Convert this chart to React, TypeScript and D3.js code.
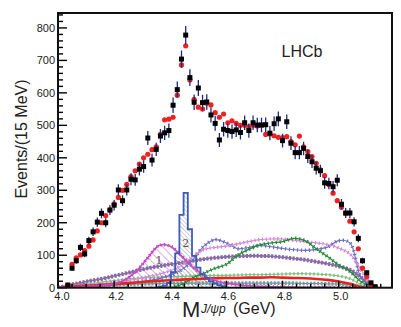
import React from 'react';
import * as d3 from 'd3';

// ---- data ----
const binMass = [4.035, 4.05, 4.065, 4.08, 4.095, 4.11, 4.125, 4.14, 4.155, 4.17, 4.185, 4.2, 4.215, 4.23, 4.245, 4.26, 4.275, 4.29, 4.305, 4.32, 4.335, 4.35, 4.365, 4.38, 4.395, 4.41, 4.425, 4.44, 4.455, 4.47, 4.485, 4.5, 4.515, 4.53, 4.545, 4.56, 4.575, 4.59, 4.605, 4.62, 4.635, 4.65, 4.665, 4.68, 4.695, 4.71, 4.725, 4.74, 4.755, 4.77, 4.785, 4.8, 4.815, 4.83, 4.845, 4.86, 4.875, 4.89, 4.905, 4.92, 4.935, 4.95, 4.965, 4.98, 4.995, 5.01, 5.025, 5.04, 5.055, 5.07, 5.085, 5.1, 5.115, 5.13];

const dataCounts = [8, 60, 83, 124, 104, 145, 172, 202, 229, 200, 239, 254, 301, 268, 301, 334, 332, 365, 373, 461, 393, 426, 467, 477, 484, 562, 610, 704, 778, 647, 571, 615, 570, 572, 532, 506, 455, 488, 484, 481, 486, 478, 508, 484, 508, 501, 501, 502, 476, 505, 520, 453, 511, 445, 416, 416, 429, 404, 388, 368, 360, 323, 321, 311, 331, 257, 230, 230, 203, 152, 83, 46, 15, 3];

const fitValues = [8, 72, 92, 101, 114, 128, 147, 175, 200, 222, 240, 258, 278, 300, 318, 342, 360, 381, 400, 411, 425, 434, 472, 517, 519, 525, 593, 686, 745, 640, 580, 556, 550, 568, 563, 539, 525, 535, 508, 514, 506, 500, 500, 495, 500, 498, 501, 472, 473, 468, 463, 462, 465, 450, 440, 467, 434, 419, 404, 383, 363, 345, 318, 291, 268, 248, 229, 205, 172, 120, 60, 34, 10, 2];

const compMass = [4.0, 4.04, 4.08, 4.12, 4.16, 4.2, 4.24, 4.28, 4.32, 4.36, 4.4, 4.44, 4.48, 4.52, 4.56, 4.6, 4.64, 4.68, 4.72, 4.76, 4.8, 4.84, 4.88, 4.92, 4.96, 5.0, 5.04, 5.08, 5.12];
const pc4380 = [0, 1, 2, 4, 7, 12, 25, 52, 92, 130, 128, 98, 64, 38, 22, 14, 9, 6, 4, 3, 2, 2, 1, 1, 1, 0, 0, 0, 0];
const lambdaPink = [0, 2, 5, 8, 12, 16, 21, 27, 34, 42, 52, 68, 95, 118, 124, 128, 135, 142, 148, 150, 150, 146, 142, 138, 133, 122, 104, 55, 0];
const lambdaBlue = [0, 1, 3, 5, 8, 11, 14, 18, 22, 28, 38, 55, 85, 128, 148, 138, 120, 124, 130, 126, 121, 117, 115, 118, 125, 145, 138, 30, 0];
const lambdaPurple = [0, 8, 15, 22, 28, 36, 44, 52, 60, 66, 72, 77, 83, 88, 92, 95, 97, 98, 98, 97, 94, 90, 86, 80, 74, 66, 55, 32, 0];
const lambdaDarkGreen = [0, 0, 0, 0, 0, 0, 0, 0, 0, 0, 0, 10, 30, 45, 60, 72, 100, 118, 132, 138, 142, 152, 145, 120, 96, 70, 50, 18, 0];
const lambdaLightGreen = [0, 3, 8, 13, 18, 22, 26, 29, 31, 33, 35, 35, 36, 37, 38, 38, 39, 40, 40, 41, 42, 43, 43, 42, 40, 36, 28, 10, 0];
const lambdaTeal = [0, 2, 4, 6, 8, 9, 10, 11, 12, 13, 13, 14, 14, 14, 14, 14, 14, 14, 14, 14, 14, 14, 13, 13, 12, 11, 8, 3, 0];
const background = [0, 3, 5, 7, 9, 11, 14, 16, 19, 21, 23, 25, 26, 28, 29, 30, 30, 31, 31, 32, 31, 30, 29, 27, 24, 19, 12, 2, 0];

const pc4450Mass = [4.365, 4.38, 4.395, 4.41, 4.425, 4.44, 4.455, 4.47, 4.485, 4.5, 4.515, 4.53, 4.545, 4.56, 4.575, 4.59];
const pc4450 = [3, 6, 15, 48, 106, 224, 292, 180, 98, 62, 42, 30, 20, 13, 8, 5];

const yTicks = [0, 100, 200, 300, 400, 500, 600, 700, 800];
const xTicks = [4.0, 4.2, 4.4, 4.6, 4.8, 5.0];
const xTickLabels = ['4.0', '4.2', '4.4', '4.6', '4.8', '5.0'];

// ---- layout ----
const W = 401;
const H = 327;
const L = 58, R = 392, T = 13, B = 287.7;
const x = d3.scaleLinear().domain([4.0, 5.19]).range([L, R]);
const y = d3.scaleLinear().domain([0, 846]).range([B, T]);
const FONT = 'Liberation Sans, Arial, Helvetica, sans-serif';

const curve = d3.curveCatmullRom.alpha(0.5);

function compLine(vals: number[], startIdx = 0) {
  return d3
    .line<number>()
    .defined((_d, i) => i >= startIdx)
    .x((_d, i) => x(compMass[i]))
    .y((d) => y(d))
    .curve(curve)(vals) as string;
}

const components = [
  { vals: lambdaTeal, color: '#6f9c9c', w: 1.2, mw: 3.6, dash: '2 1.6', start: 0 },
  { vals: lambdaLightGreen, color: '#7cbb78', w: 1, mw: 3.2, dash: '1.4 2.6', start: 0 },
  { vals: lambdaPurple, color: '#8a6aa6', w: 1.6, mw: 4, dash: '2.2 1.4', start: 0 },
  { vals: lambdaBlue, color: '#6c6cc4', w: 1.1, mw: 3.6, dash: '1.2 2.8', start: 0 },
  { vals: lambdaPink, color: '#d58ad5', w: 1.1, mw: 3.6, dash: '1.2 2.6', start: 0 },
  { vals: lambdaDarkGreen, color: '#238a35', w: 1.2, mw: 3.6, dash: '1.2 2.8', start: 10 },
];

export default function App() {
  const yMinor = d3.range(0, 841, 20);
  const xMinor = d3.range(4.0, 5.19, 0.05);

  const pc4380Area = d3
    .area<number>()
    .x((_d, i) => x(compMass[i]))
    .y0(y(0))
    .y1((d) => y(d))
    .curve(curve)(pc4380) as string;

  // step outline for Pc(4450)
  const stepPts: [number, number][] = [];
  pc4450.forEach((v, i) => {
    const m = pc4450Mass[i];
    if (i === 0) stepPts.push([m - 0.0075, 0]);
    stepPts.push([m - 0.0075, v]);
    stepPts.push([m + 0.0075, v]);
  });
  stepPts.push([pc4450Mass[pc4450Mass.length - 1] + 0.0075, 0]);
  const stepLine = d3
    .line<[number, number]>()
    .x((d) => x(d[0]))
    .y((d) => y(d[1]))(stepPts) as string;

  return (
    <svg
      width={W}
      height={H}
      viewBox={`0 0 ${W} ${H}`}
      style={{ position: 'absolute', left: 0, top: 0, background: '#fff' }}
      fontFamily={FONT}
    >
      <defs>
        <clipPath id="plotClip">
          <rect x={L} y={T} width={R - L} height={B - T} />
        </clipPath>
        <pattern id="hatch1" width={6} height={6} patternUnits="userSpaceOnUse" patternTransform="rotate(-45)">
          <line x1={0} y1={0} x2={0} y2={6} stroke="#c25ac2" strokeWidth={1} />
        </pattern>
        <pattern id="hatch2" width={3} height={3} patternUnits="userSpaceOnUse" patternTransform="rotate(-45)">
          <line x1={0} y1={0} x2={0} y2={3} stroke="#8a8a8a" strokeWidth={0.8} />
        </pattern>
      </defs>

      <rect x={0} y={0} width={W} height={H} fill="#fff" />

      <g clipPath="url(#plotClip)">
        {/* hatched components */}
        <path d={pc4380Area} fill="url(#hatch1)" stroke="none" />
        <path d={stepLine} fill="url(#hatch2)" stroke="none" />

        {/* Lambda* components */}
        {components.map((c, k) => {
          const d = compLine(c.vals, c.start);
          return (
            <g key={k}>
              <path d={d} fill="none" stroke={c.color} strokeWidth={c.w} />
              <path d={d} fill="none" stroke={c.color} strokeWidth={c.mw} strokeDasharray={c.dash} />
            </g>
          );
        })}

        {/* background */}
        <path d={compLine(background)} fill="none" stroke="#e8231f" strokeWidth={2.6} />

        {/* Pc(4380) outline */}
        <path d={compLine(pc4380)} fill="none" stroke="#c24ec2" strokeWidth={1.6} />
        <path d={compLine(pc4380)} fill="none" stroke="#c24ec2" strokeWidth={3.4} strokeDasharray="1.2 2.6" />

        {/* Pc(4450) outline */}
        <path d={stepLine} fill="none" stroke="#3a5cb4" strokeWidth={1.8} />

        {/* fit points */}
        {fitValues.map((v, i) => (
          <circle key={'f' + i} cx={x(binMass[i])} cy={y(v)} r={2.6} fill="#ee2222" />
        ))}
        {/* data error bars */}
        {dataCounts.map((v, i) => {
          const e = Math.sqrt(v);
          return (
            <line
              key={'e' + i}
              x1={x(binMass[i])}
              x2={x(binMass[i])}
              y1={y(v + e)}
              y2={y(Math.max(0, v - e))}
              stroke="#1f2a7a"
              strokeWidth={1.3}
            />
          );
        })}
        {/* data points */}
        {dataCounts.map((v, i) => (
          <rect key={'d' + i} x={x(binMass[i]) - 2.5} y={y(v) - 2.5} width={5} height={5} fill="#000" />
        ))}
      </g>

      {/* labels on components */}
      <text x={x(4.36)} y={264} fontSize={11} fill="#555" textAnchor="middle" fontFamily="DejaVu Serif, serif">1</text>
      <text x={x(4.455)} y={247} fontSize={11} fill="#555" textAnchor="middle" fontFamily="DejaVu Serif, serif">2</text>

      {/* axis ticks */}
      {yMinor.map((v) => {
        const major = v % 100 === 0;
        return (
          <line key={'ym' + v} x1={L} x2={L + (major ? 9 : 5)} y1={y(v)} y2={y(v)} stroke="#000" strokeWidth={1.4} />
        );
      })}
      {xMinor.map((m, i) => {
        const major = i % 4 === 0;
        return (
          <line key={'xm' + i} x1={x(m)} x2={x(m)} y1={B} y2={B - (major ? 7 : 4)} stroke="#000" strokeWidth={1.4} />
        );
      })}

      {/* frame */}
      <rect x={L} y={T} width={R - L} height={B - T} fill="none" stroke="#111" strokeWidth={2} />

      {/* tick labels */}
      {yTicks.map((v) => (
        <text key={'yl' + v} x={55} y={y(v)} dy="0.35em" fontSize={11} textAnchor="end" fill="#222">
          {v}
        </text>
      ))}
      {xTicks.map((m, i) => (
        <text key={'xl' + i} x={x(m) + (i === 0 ? 4 : 2)} y={300} fontSize={11} textAnchor="middle" fill="#222">
          {xTickLabels[i]}
        </text>
      ))}

      {/* axis titles */}
      <text transform="translate(27,139) rotate(-90)" fontSize={16} textAnchor="middle" fill="#222">
        Events/(15 MeV)
      </text>
      <text x={182} y={316.5} fontSize={22} fill="#222">M</text>
      <text x={201} y={313} fontSize={12} fontStyle="italic" fill="#222">J/ψp</text>
      <text x={233} y={314} fontSize={16} fill="#222">(GeV)</text>

      <text x={281.5} y={57.3} fontSize={16} fill="#222">LHCb</text>
    </svg>
  );
}
